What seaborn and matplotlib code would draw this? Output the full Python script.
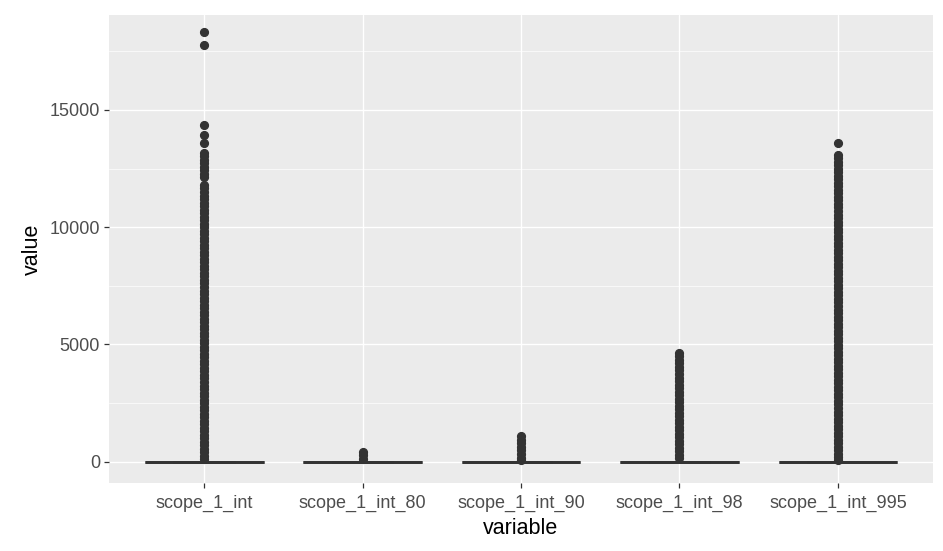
import matplotlib
matplotlib.use("Agg")
import matplotlib.pyplot as plt
from matplotlib.ticker import MultipleLocator
import seaborn as sns
import pandas as pd

categories = ["scope_1_int", "scope_1_int_80", "scope_1_int_90", "scope_1_int_98", "scope_1_int_995"]

# bulk of observations sit at zero (box collapses onto 0)
n_zero = 800

# outlier values
out_int = [18330, 17770, 14350, 13950, 13600,
           13180, 13030, 12880, 12730, 12580, 12430, 12280, 12130,
           11800, 11650, 11500, 11350, 11200, 11050, 10900, 10750, 10600, 10450,
           10300, 10150, 10000, 9850, 9700, 9550, 9400, 9250, 9100, 8950, 8800,
           8650, 8500, 8350, 8200, 8050, 7900, 7750, 7600, 7450, 7300, 7150, 7000,
           6850, 6700, 6550, 6400, 6250, 6100, 5950, 5800, 5650, 5500, 5350, 5200,
           5050, 4900, 4750, 4600, 4450, 4300, 4150, 4000, 3850, 3700, 3550, 3400,
           3250, 3100, 2950, 2800, 2650, 2500, 2350, 2200, 2050, 1900, 1750, 1600,
           1450, 1300, 1150, 1000, 850, 700, 550, 400, 250, 100]
out_80 = [420, 270, 120]
out_90 = [1080, 930, 780, 630, 480, 330, 180, 60]
out_98 = [4640, 4490, 4340, 4190, 4040, 3890, 3740, 3590, 3440, 3290, 3140,
          2990, 2840, 2690, 2540, 2390, 2240, 2090, 1940, 1790, 1640, 1490,
          1340, 1190, 1040, 890, 740, 590, 440, 290, 140]
out_995 = [13600, 13090, 12940, 12790, 12640, 12490, 12340, 12190, 12040, 11890,
           11740, 11590, 11440, 11290, 11140, 10990, 10840, 10690, 10540, 10390,
           10240, 10090, 9940, 9790, 9640, 9490, 9340, 9190, 9040, 8890, 8740,
           8590, 8440, 8290, 8140, 7990, 7840, 7690, 7540, 7390, 7240, 7090, 6940,
           6790, 6640, 6490, 6340, 6190, 6040, 5890, 5740, 5590, 5440, 5290, 5140,
           4990, 4840, 4690, 4540, 4390, 4240, 4090, 3940, 3790, 3640, 3490, 3340,
           3190, 3040, 2890, 2740, 2590, 2440, 2290, 2140, 1990, 1840, 1690, 1540,
           1390, 1240, 1090, 940, 790, 640, 490, 340, 190, 60]

yticks = [0, 5000, 10000, 15000]
ytick_labels = ["0", "5000", "10000", "15000"]

outliers = [out_int, out_80, out_90, out_98, out_995]
rows = []
for cat, outs in zip(categories, outliers):
    for v in [0.0] * n_zero + list(outs):
        rows.append((cat, v))
df = pd.DataFrame(rows, columns=["variable", "value"])

sns.set_theme(style="darkgrid", rc={
    "axes.facecolor": "#EBEBEB",
    "grid.color": "white",
    "axes.edgecolor": "#EBEBEB",
})
plt.rcParams["font.family"] = ["Liberation Sans", "DejaVu Sans"]

fig = plt.figure(figsize=(9.43, 5.51), dpi=100)
ax = fig.add_axes([109 / 943, 1 - 483 / 551, (933 - 109) / 943, (483 - 15) / 551])

dark = "#333333"
sns.boxplot(data=df, x="variable", y="value", order=categories, ax=ax,
            width=0.75, color="white", linecolor=dark, linewidth=2.0,
            fliersize=5.6,
            flierprops=dict(marker="o", markerfacecolor=dark, markeredgecolor=dark))

ax.set_xlim(-0.6, 4.6)
ax.set_ylim(-907, 19047)
ax.set_yticks(yticks)
ax.set_yticklabels(ytick_labels)
ax.yaxis.set_minor_locator(MultipleLocator(2500))
ax.grid(True, which="major", color="white", linewidth=1.0)
ax.grid(True, which="minor", axis="y", color="white", linewidth=0.5)
ax.set_axisbelow(True)
for s in ax.spines.values():
    s.set_visible(False)

ax.tick_params(axis="both", which="major", length=3.5, width=0.9, color=dark,
               labelsize=13, labelcolor="#4D4D4D", pad=3, bottom=True, left=True)
ax.tick_params(axis="x", which="major", pad=5)
ax.tick_params(axis="y", which="minor", length=0)
ax.set_xlabel("variable", fontsize=15.5, color="black", labelpad=4)
ax.set_ylabel("value", fontsize=15.5, color="black", labelpad=5)

fig.savefig("out.png", dpi=100)
